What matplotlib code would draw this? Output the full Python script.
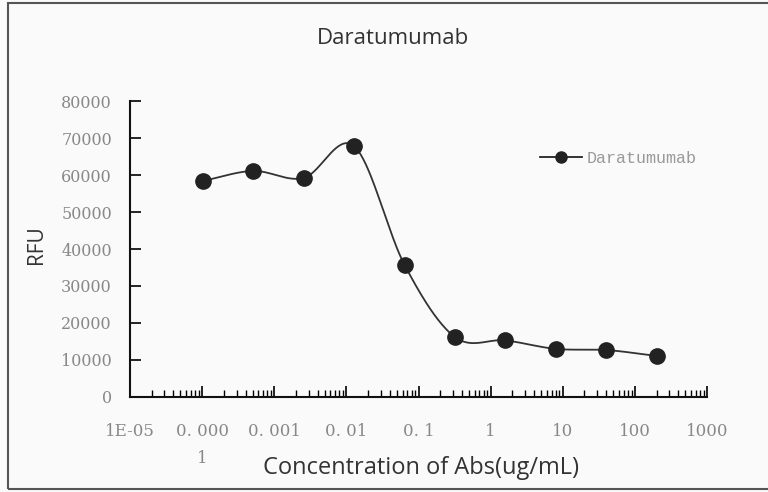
import numpy as np
import matplotlib.pyplot as plt
from matplotlib.patches import Rectangle
from matplotlib.ticker import FixedLocator, LogLocator, NullFormatter

# 5-fold serial dilution of the antibody (ug/mL) and measured signal
conc = [0.0001024, 0.000512, 0.00256, 0.0128, 0.064, 0.32, 1.6, 8, 40, 200]
rfu = [58400, 61100, 59200, 67800, 35700, 16200, 15300, 13000, 12700, 11100]

x_ticks = [1e-5, 1e-4, 1e-3, 1e-2, 1e-1, 1, 10, 100, 1000]
x_tick_labels = ['1E-05', '0. 000\n1', '0. 001', '0. 01', '0. 1', '1', '10', '100', '1000']
y_ticks = [0, 10000, 20000, 30000, 40000, 50000, 60000, 70000, 80000]


def smooth_curve(x, y, steps=40):
    """Catmull-Rom spline through the points, in log10(x) space."""
    lx = np.log10(x)
    y = np.asarray(y, dtype=float)
    px = np.concatenate([[2 * lx[0] - lx[1]], lx, [2 * lx[-1] - lx[-2]]])
    py = np.concatenate([[2 * y[0] - y[1]], y, [2 * y[-1] - y[-2]]])
    out_x, out_y = [], []
    for i in range(1, len(px) - 2):
        t = np.linspace(0, 1, steps)
        for p, out in ((px, out_x), (py, out_y)):
            p0, p1, p2, p3 = p[i - 1], p[i], p[i + 1], p[i + 2]
            out.extend(0.5 * ((2 * p1) + (-p0 + p2) * t
                              + (2 * p0 - 5 * p1 + 4 * p2 - p3) * t ** 2
                              + (-p0 + 3 * p1 - 3 * p2 + p3) * t ** 3))
    return 10 ** np.array(out_x), np.array(out_y)


fig = plt.figure(figsize=(7.68, 4.92), dpi=100, facecolor='#fafafa')
ax = fig.add_axes([0.1693, 0.1931, 0.7513, 0.6016], facecolor='#fafafa')

# chart frame
fig.patches.append(Rectangle((0.011, 0.006), 1.0, 0.988, transform=fig.transFigure,
                             fill=False, edgecolor='#555555', linewidth=1.5))

sx, sy = smooth_curve(conc, rfu)
ax.plot(sx, sy, color='#333333', linewidth=1.3)
ax.plot(conc, rfu, linestyle='none', marker='o', markersize=11, color='#222222')

ax.set_xscale('log')
ax.set_xlim(1e-5, 1000)
ax.set_ylim(0, 80000)

serif = ['DejaVu Serif']
ax.xaxis.set_major_locator(FixedLocator(x_ticks))
ax.xaxis.set_minor_locator(LogLocator(base=10, subs=np.arange(2, 10)))
ax.xaxis.set_minor_formatter(NullFormatter())
ax.set_xticklabels(x_tick_labels, family=serif, fontsize=12, color='#888888',
                   linespacing=1.8, va='top')
ax.set_yticks(y_ticks)
ax.set_yticklabels([str(v) for v in y_ticks], family=serif, fontsize=11.5, color='#888888')

ax.tick_params(axis='x', which='major', direction='in', length=8, width=1.2, pad=18.5)
ax.tick_params(axis='x', which='minor', direction='in', length=5, width=1)
ax.tick_params(axis='y', which='major', direction='in', length=8, width=1.2, pad=13)

for side in ('top', 'right'):
    ax.spines[side].set_visible(False)
for side in ('left', 'bottom'):
    ax.spines[side].set_linewidth(1.5)
    ax.spines[side].set_color('#111111')

sans = ['Open Sans', 'DejaVu Sans']
fig.text(0.512, 0.921, 'Daratumumab', family=sans, fontsize=16,
         color='#333333', ha='center', va='center')
fig.text(0.548, 0.049, 'Concentration of Abs(ug/mL)', family=sans, fontsize=17,
         color='#333333', ha='center', va='center')
fig.text(0.047, 0.503, 'RFU', family=sans, fontsize=15, color='#333333',
         rotation=90, ha='center', va='center')

ax.legend([plt.Line2D([], [], color='#222222', marker='o', markersize=8, linewidth=1.3)],
          ['Daratumumab'], loc='center left', bbox_to_anchor=(0.685, 0.805),
          frameon=False, handlelength=2.5, handletextpad=0.3,
          prop={'family': ['Liberation Mono', 'DejaVu Sans Mono'], 'size': 12},
          labelcolor='#999999')

fig.savefig('out.png', dpi=100, facecolor=fig.get_facecolor())
